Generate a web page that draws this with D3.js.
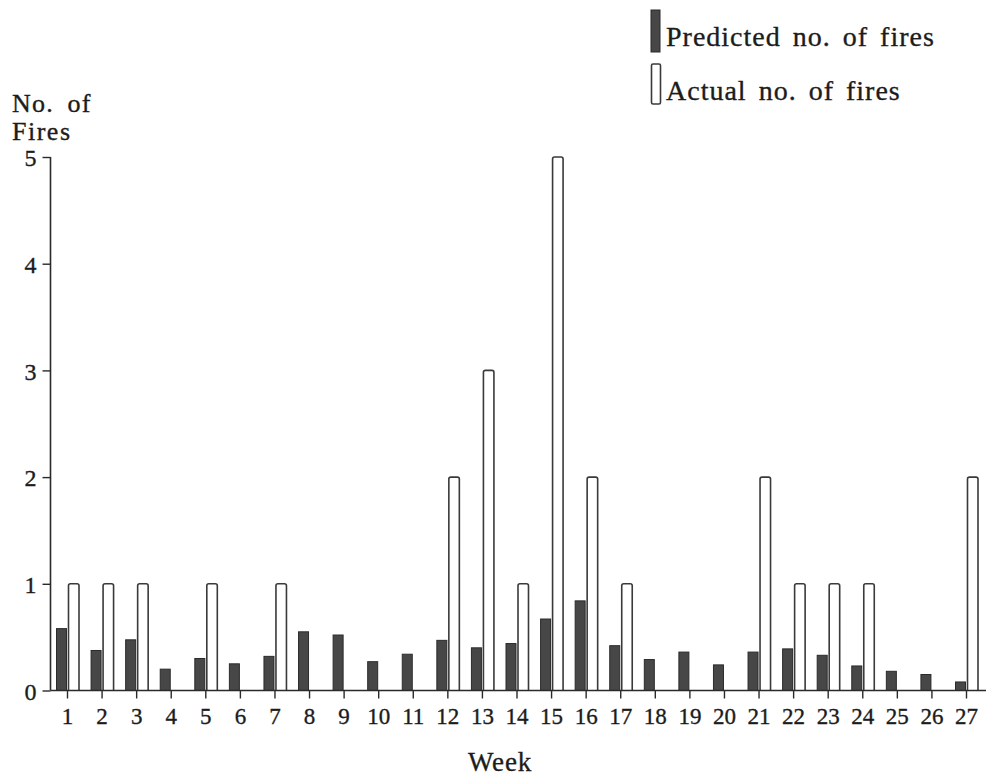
<!DOCTYPE html>
<html>
<head>
<meta charset="utf-8">
<script src="https://cdn.jsdelivr.net/npm/d3@7/dist/d3.min.js"></script>
<style>
  html, body { margin: 0; padding: 0; background: #fff; }
</style>
</head>
<body>
<svg id="chart" width="989" height="779"></svg>
<script>
// Weekly fire counts: model prediction vs. observed
const weeks = d3.range(1, 28);
const predicted = [0.58, 0.375, 0.475, 0.20, 0.30, 0.25, 0.32, 0.55, 0.52, 0.27,
                   0.34, 0.47, 0.40, 0.44, 0.67, 0.84, 0.42, 0.29, 0.36, 0.24,
                   0.36, 0.39, 0.33, 0.23, 0.18, 0.15, 0.08];
const actual = [1, 1, 1, 0, 1, 0, 1, 0, 0, 0,
                0, 2, 3, 1, 5, 2, 1, 0, 0, 0,
                2, 1, 1, 1, 0, 0, 2];
const yTicks = [0, 1, 2, 3, 4, 5];
const legendLabels = ["Predicted no. of fires", "Actual no. of fires"];

const SERIF = "'Liberation Serif', 'Times New Roman', Times, serif";
const textInk = "#1c1c1c";

const svg = d3.select("#chart");
const axisLeftX = 50.5, axisRightX = 986, baseY = 690.5, topY = 157;

const x = d3.scaleLinear().domain([1, 27]).range([67, 966]);
const y = d3.scaleLinear().domain([0, 5]).range([baseY, topY]);

const ink = "#2a2a2a";

function serifText(sel, size) {
  return sel.style("font-family", SERIF).style("font-size", size + "px")
    .style("fill", textInk).style("stroke", textInk).style("stroke-width", 0.35);
}

// predicted bars (filled, left of the week tick)
svg.append("g").selectAll("rect")
  .data(weeks)
  .join("rect")
  .attr("x", d => x(d) - 10.5)
  .attr("width", 10)
  .attr("y", (d, i) => y(predicted[i]))
  .attr("height", (d, i) => baseY - y(predicted[i]))
  .attr("fill", "#474747")
  .attr("stroke", "#2b2b2b")
  .attr("stroke-width", 1);

// actual bars (outlined, right of the week tick)
svg.append("g").selectAll("path")
  .data(weeks.filter((d, i) => actual[i] > 0))
  .join("path")
  .attr("d", d => {
    const v = actual[d - 1];
    const x0 = x(d) + 1.5, x1 = x(d) + 12, y0 = y(v), r = 2;
    return `M${x0},${baseY} L${x0},${y0 + r} Q${x0},${y0} ${x0 + r},${y0} L${x1 - r},${y0} Q${x1},${y0} ${x1},${y0 + r} L${x1},${baseY}`;
  })
  .attr("fill", "#fff")
  .attr("stroke", "#3a3a3a")
  .attr("stroke-width", 1.6);

// y axis
const yAxis = d3.axisLeft(y).tickValues(yTicks).tickFormat(d3.format("d")).tickSize(8).tickPadding(6);
const gy = svg.append("g").attr("transform", `translate(${axisLeftX},0)`).call(yAxis);
gy.select(".domain").attr("d", `M0,${baseY}V${topY}`).attr("stroke", ink).attr("stroke-width", 1.6);
gy.selectAll(".tick line").attr("stroke", ink).attr("stroke-width", 1.4);
serifText(gy.selectAll(".tick text"), 24).attr("dy", "0.36em");

// x axis
const xAxis = d3.axisBottom(x).tickValues(weeks).tickFormat(d3.format("d")).tickSize(8).tickPadding(8);
const gx = svg.append("g").attr("transform", `translate(0,${baseY})`).call(xAxis);
gx.select(".domain").attr("d", `M${axisLeftX},0H${axisRightX}`).attr("stroke", ink).attr("stroke-width", 1.6);
gx.selectAll(".tick line").attr("stroke", ink).attr("stroke-width", 1.4);
serifText(gx.selectAll(".tick text"), 23).attr("dy", "0.78em");

// axis titles
serifText(svg.append("text").attr("x", 12).attr("y", 112), 26)
  .attr("letter-spacing", 1.2).attr("word-spacing", 6).text("No. of");
serifText(svg.append("text").attr("x", 12).attr("y", 140), 26).attr("letter-spacing", 1.5).text("Fires");
serifText(svg.append("text").attr("x", 500).attr("y", 771).attr("text-anchor", "middle"), 27)
  .attr("letter-spacing", 0.8).text("Week");

// legend
const legend = svg.append("g");
legend.append("rect").attr("x", 651).attr("y", 10).attr("width", 9).attr("height", 42)
  .attr("fill", "#474747").attr("stroke", "#2b2b2b").attr("stroke-width", 1);
legend.append("rect").attr("x", 651.5).attr("y", 64).attr("width", 9).attr("height", 40).attr("rx", 1.5)
  .attr("fill", "#fff").attr("stroke", "#3a3a3a").attr("stroke-width", 1.6);
serifText(legend.selectAll("text.lbl")
  .data(legendLabels)
  .join("text")
  .attr("class", "lbl")
  .attr("x", 666)
  .attr("y", (d, i) => 46 + i * 54), 28)
  .attr("letter-spacing", 1.0)
  .attr("word-spacing", 4)
  .text(d => d);
</script>
</body>
</html>
